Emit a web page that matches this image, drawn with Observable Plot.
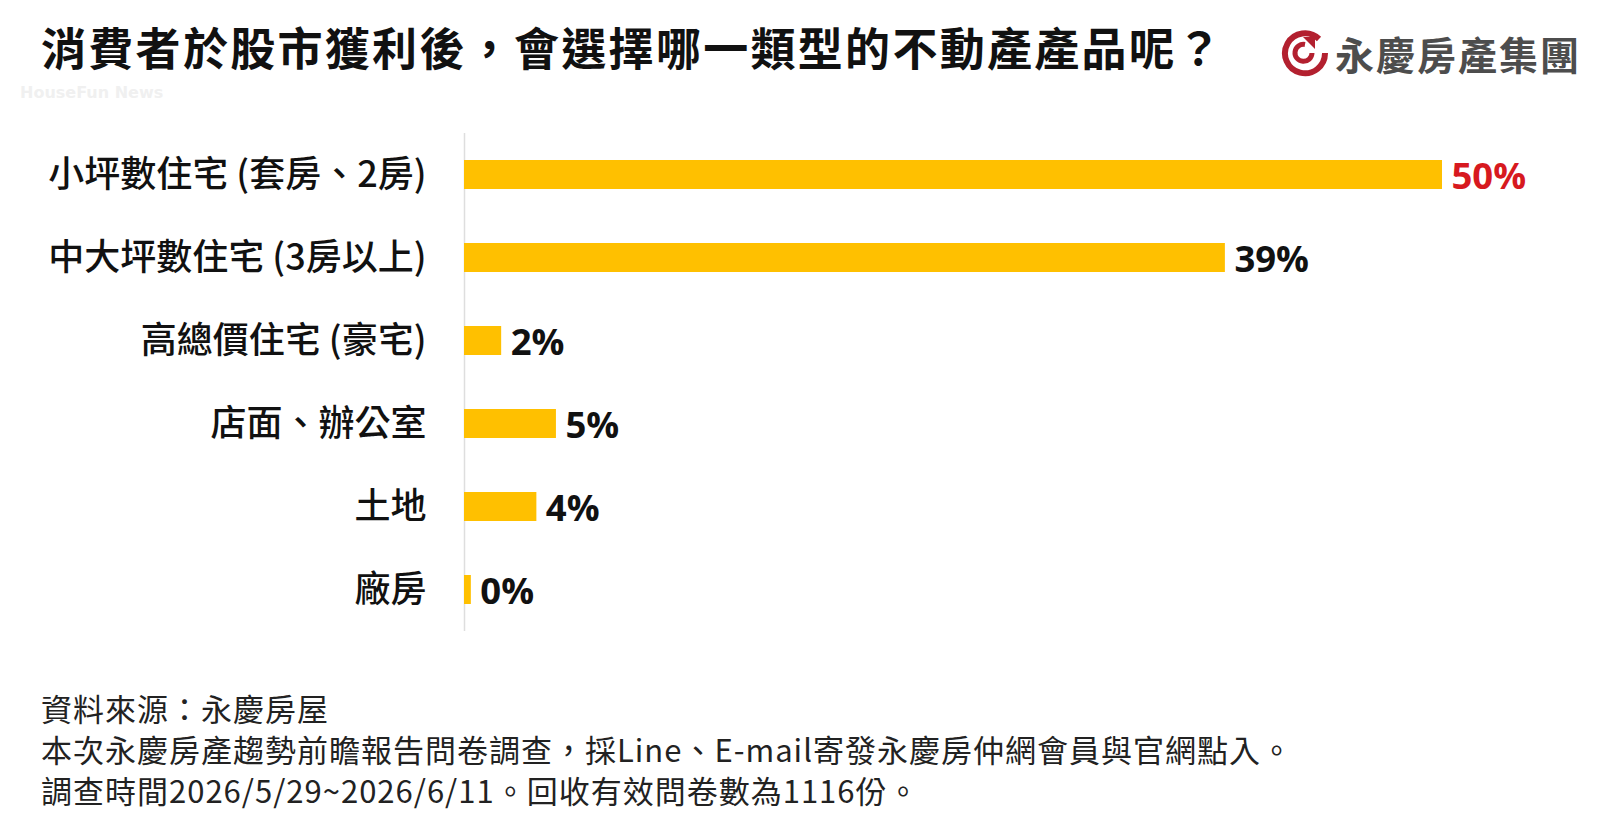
<!DOCTYPE html>
<html>
<head>
<meta charset="utf-8">
<script src="https://cdn.jsdelivr.net/npm/d3@7"></script>
<script src="https://cdn.jsdelivr.net/npm/@observablehq/plot@0.6"></script>
<style>
  html, body { margin: 0; padding: 0; background: #fff; }
  body { width: 1600px; height: 833px; position: relative; overflow: hidden; font-family: "Noto Sans CJK TC", "Noto Sans", sans-serif; }
  #title { position: absolute; left: 41px; top: 23px; font-size: 45px; line-height: 48px; font-weight: 700; color: #111; letter-spacing: 2.3px; white-space: nowrap; }
  #watermark { position: absolute; left: 20px; top: 84px; font-family: "DejaVu Sans", sans-serif; font-size: 16px; line-height: 18px; font-weight: 700; color: #f0f0f0; white-space: nowrap; }
  #logo { position: absolute; left: 1281px; top: 28px; height: 50px; display: flex; align-items: center; }
  #logo span { margin-left: 6px; font-size: 39px; font-weight: 700; color: #4d4d4d; letter-spacing: 2px; white-space: nowrap; }
  #chart { position: absolute; left: 0; top: 110px; }
  #note { position: absolute; left: 41px; top: 687px; font-size: 31px; line-height: 41px; color: #222; letter-spacing: 1px; white-space: nowrap; }
</style>
</head>
<body>
<div id="watermark">HouseFun News</div>
<div id="title"></div>
<div id="logo">
  <svg width="48" height="48" viewBox="0 0 48 48">
    <path d="M38 10 A20 20 0 1 0 44 24" fill="none" stroke="#b3202f" stroke-width="6"/>
    <path d="M31 24 A8.5 8.5 0 1 1 24 15.5" fill="none" stroke="#b3202f" stroke-width="5"/>
    <path d="M22 8 L34 8 L34 20 Z" fill="#b3202f"/>
  </svg>
  <span>永慶房產集團</span>
</div>
<div id="chart"></div>
<div id="note"></div>
<script>
// ---- data ----
const titleText = "消費者於股市獲利後，會選擇哪一類型的不動產產品呢？";
const categories = ["小坪數住宅 (套房、2房)", "中大坪數住宅 (3房以上)", "高總價住宅 (豪宅)", "店面、辦公室", "土地", "廠房"];
const values = [50, 38.9, 1.9, 4.7, 3.7, 0.35];
const noteLines = [
  "資料來源：永慶房屋",
  "本次永慶房產趨勢前瞻報告問卷調查，採Line、E-mail寄發永慶房仲網會員與官網點入。",
  "調查時間2026/5/29~2026/6/11。回收有效問卷數為1116份。"
];

document.getElementById("title").textContent = titleText;
document.getElementById("note").innerHTML = noteLines.map(s => `<div>${s}</div>`).join("");

const data = categories.map((c, i) => ({cat: c, value: values[i]}));
const maxV = d3.max(values);

const chart = Plot.plot({
  width: 1600,
  height: 531,
  marginLeft: 464,
  marginRight: 158,
  marginTop: 23,
  marginBottom: 10,
  style: {fontFamily: '"Noto Sans CJK TC", sans-serif', background: "transparent", overflow: "visible"},
  x: {domain: [0, 50], axis: null},
  y: {domain: categories, paddingInner: 0.65, paddingOuter: 0.325, label: null, axis: null},
  marks: [
    Plot.ruleX([0], {stroke: "#dedede", strokeWidth: 1.5}),
    Plot.barX(data, {y: "cat", x: "value", fill: "#FFC000"}),
    Plot.axisY({tickSize: 0, tickPadding: 38, fontSize: 36, fontWeight: 500, fill: "#111", label: null}),
    Plot.text(data, {
      y: "cat", x: "value",
      text: d => Math.round(d.value) + "%",
      dx: 9, dy: 2, textAnchor: "start",
      fontSize: 36.5, fontWeight: 700, fontFamily: '"Open Sans", sans-serif',
      fill: d => d.value === maxV ? "#d7191f" : "#111"
    })
  ]
});
document.getElementById("chart").appendChild(chart);
</script>
</body>
</html>
